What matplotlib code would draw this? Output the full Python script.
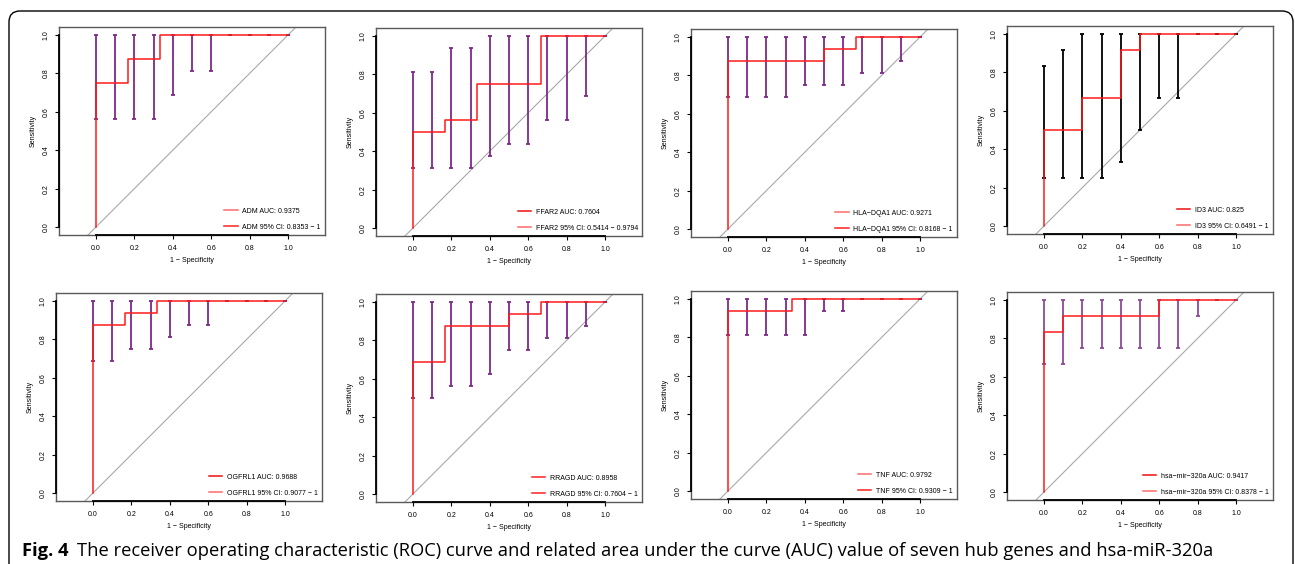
import matplotlib
matplotlib.use('Agg')
import matplotlib.pyplot as plt
from matplotlib.lines import Line2D
from matplotlib.patches import FancyBboxPatch
from matplotlib.transforms import IdentityTransform

plt.rcParams['font.family'] = ['Liberation Sans', 'DejaVu Sans']

# panel names and legend values
genes = ['ADM', 'FFAR2', 'HLA\u2212DQA1', 'ID3', 'OGFRL1', 'RRAGD', 'TNF', 'hsa\u2212mir\u2212320a']
auc_text = ['0.9375', '0.7604', '0.9271', '0.825', '0.9688', '0.8958', '0.9792', '0.9417']
ci_text = ['0.8353 \u2212 1', '0.5414 \u2212 0.9794', '0.8168 \u2212 1', '0.6491 \u2212 1',
           '0.9077 \u2212 1', '0.7604 \u2212 1', '0.9309 \u2212 1', '0.8378 \u2212 1']

# ROC curve vertices (1 - specificity, sensitivity)
roc_fpr = [
    [0, 0, 0.167, 0.167, 0.333, 0.333, 1],
    [0, 0, 0.167, 0.167, 0.333, 0.333, 0.667, 0.667, 1],
    [0, 0, 0.5, 0.5, 0.667, 0.667, 1],
    [0, 0, 0.2, 0.2, 0.4, 0.4, 0.5, 0.5, 1],
    [0, 0, 0.167, 0.167, 0.333, 0.333, 1],
    [0, 0, 0.167, 0.167, 0.5, 0.5, 0.667, 0.667, 1],
    [0, 0, 0.333, 0.333, 1],
    [0, 0, 0.1, 0.1, 0.6, 0.6, 1],
]
roc_tpr = [
    [0, 0.75, 0.75, 0.875, 0.875, 1, 1],
    [0, 0.5, 0.5, 0.5625, 0.5625, 0.75, 0.75, 1, 1],
    [0, 0.875, 0.875, 0.9375, 0.9375, 1, 1],
    [0, 0.5, 0.5, 0.667, 0.667, 0.917, 0.917, 1, 1],
    [0, 0.875, 0.875, 0.9375, 0.9375, 1, 1],
    [0, 0.6875, 0.6875, 0.875, 0.875, 0.9375, 0.9375, 1, 1],
    [0, 0.9375, 0.9375, 1, 1],
    [0, 0.833, 0.833, 0.917, 0.917, 1, 1],
]

# sensitivity confidence bars
ci_x = [0.0, 0.1, 0.2, 0.3, 0.4, 0.5, 0.6, 0.7, 0.8, 0.9, 1.0]
ci_lo = [
    [0.5625, 0.5625, 0.5625, 0.5625, 0.6875, 0.8125, 0.8125, 1, 1, 1, 1],
    [0.3125, 0.3125, 0.3125, 0.3125, 0.375, 0.4375, 0.4375, 0.5625, 0.5625, 0.6875, 1],
    [0.6875, 0.6875, 0.6875, 0.6875, 0.75, 0.75, 0.75, 0.8125, 0.8125, 0.875, 1],
    [0.25, 0.25, 0.25, 0.25, 0.333, 0.5, 0.667, 0.667, 1, 1, 1],
    [0.6875, 0.6875, 0.75, 0.75, 0.8125, 0.875, 0.875, 1, 1, 1, 1],
    [0.5, 0.5, 0.5625, 0.5625, 0.625, 0.75, 0.75, 0.8125, 0.8125, 0.875, 1],
    [0.8125, 0.8125, 0.8125, 0.8125, 0.8125, 0.9375, 0.9375, 1, 1, 1, 1],
    [0.667, 0.667, 0.75, 0.75, 0.75, 0.75, 0.75, 0.75, 0.917, 1, 1],
]
ci_hi = [
    [1, 1, 1, 1, 1, 1, 1, 1, 1, 1, 1],
    [0.8125, 0.8125, 0.9375, 0.9375, 1, 1, 1, 1, 1, 1, 1],
    [1, 1, 1, 1, 1, 1, 1, 1, 1, 1, 1],
    [0.833, 0.917, 1, 1, 1, 1, 1, 1, 1, 1, 1],
    [1, 1, 1, 1, 1, 1, 1, 1, 1, 1, 1],
    [1, 1, 1, 1, 1, 1, 1, 1, 1, 1, 1],
    [1, 1, 1, 1, 1, 1, 1, 1, 1, 1, 1],
    [1, 1, 1, 1, 1, 1, 1, 1, 1, 1, 1],
]
bar_colors = ['#7d2a88', '#7d2a88', '#7d2a88', 'black', '#7d2a88', '#7d2a88', '#7d2a88', '#8c4a98']
legend_colors = [('#ff6b6b', '#ff2020'), ('#ee1010', '#ff6b6b'), ('#ff6b6b', '#ff2020'),
                 ('#ee1010', '#ff6b6b'), ('#ee1010', '#ff6b6b'), ('#ff2020', '#ff2020'),
                 ('#ff6b6b', '#ff2020'), ('#ee1010', '#ff6b6b')]

W, H = 1295, 564
fig = plt.figure(figsize=(W / 100, H / 100), dpi=100)

# axes boxes in pixels: left, top
boxes = [(59, 27), (376, 28), (691, 29), (1007, 26),
         (56, 293), (376, 294), (691, 291), (1007, 292)]
bw, bh = 266, 208

for i, (lx, ty) in enumerate(boxes):
    ax = fig.add_axes([lx / W, 1 - (ty + bh) / H, bw / W, bh / H])
    ax.set_xlim(-0.193, 1.193)
    ax.set_ylim(-0.042, 1.042)

    ax.axline((0, 0), slope=1, color='#a8a8a8', lw=0.8, zorder=1)
    lo, hi = ci_lo[i], ci_hi[i]
    mid = [(a + b) / 2 for a, b in zip(lo, hi)]
    err = [(b - a) / 2 for a, b in zip(lo, hi)]
    ax.errorbar(ci_x, mid, yerr=[err, err], fmt='none', ecolor=bar_colors[i],
                elinewidth=1.3, capsize=1.7, capthick=1.3, zorder=2)
    ax.plot(roc_fpr[i], roc_tpr[i], color='#ff1a1a', lw=1.1, zorder=3)

    for s in ax.spines.values():
        s.set_color('#5a5a5a')
        s.set_linewidth(1.0)
    # R-style axis segments from first to last tick
    ax.plot([0, 1], [-0.042, -0.042], color='black', lw=1.3, clip_on=False, zorder=5)
    ax.plot([-0.193, -0.193], [0, 1], color='black', lw=1.3, clip_on=False, zorder=5)

    ticks = [0.0, 0.2, 0.4, 0.6, 0.8, 1.0]
    ax.set_xticks(ticks)
    ax.set_yticks(ticks)
    ax.set_xticklabels(['%.1f' % t for t in ticks])
    ax.set_yticklabels(['%.1f' % t for t in ticks], rotation=90, va='center')
    ax.tick_params(direction='out', length=3, width=0.8, labelsize=5, pad=4, colors='black')
    ax.set_xlabel('1 \u2212 Specificity', fontsize=5, labelpad=4)
    ax.set_ylabel('Sensitivity', fontsize=5, labelpad=4)

    c1, c2 = legend_colors[i]
    handles = [Line2D([], [], color=c1, lw=1.1), Line2D([], [], color=c2, lw=1.1)]
    labels = ['%s AUC: %s' % (genes[i], auc_text[i]), '%s 95%% CI: %s' % (genes[i], ci_text[i])]
    ax.legend(handles, labels, loc='lower right', frameon=False, fontsize=5,
              handlelength=1.9, handletextpad=0.7, labelspacing=1.3,
              borderpad=0.2, borderaxespad=0.4)

# rounded frame, open at the bottom
frame = FancyBboxPatch((9, -30), 1284, H - 11 + 30,
                       boxstyle='round,pad=0,rounding_size=11',
                       transform=IdentityTransform(), facecolor='none',
                       edgecolor='black', lw=1.0)
fig.add_artist(frame)

# caption
cap_y = 1 - 556 / H
fs = 12.5
t1 = fig.text(22 / W, cap_y, 'Fig. 4', fontsize=fs, fontweight='bold',
              family=['Open Sans', 'DejaVu Sans'], va='baseline')
r = fig.canvas.get_renderer()
w1 = t1.get_window_extent(r).width
t2 = fig.text((22 + w1 + 8) / W, cap_y,
              'The receiver operating characteristic (ROC) curve and related area under the curve (AUC) '
              'value of seven hub genes and hsa-miR-320a',
              fontsize=fs, family=['Open Sans', 'DejaVu Sans'], va='baseline')
# fit caption to reference width
total = t2.get_window_extent(r).x1 - 22
scale = (1216 - 22) / total
fs2 = fs * scale
t1.set_fontsize(fs2)
w1 = t1.get_window_extent(r).width
t2.set_fontsize(fs2)
t2.set_x((22 + w1 + 8 * scale) / W)

fig.savefig('out.png', dpi=100)
